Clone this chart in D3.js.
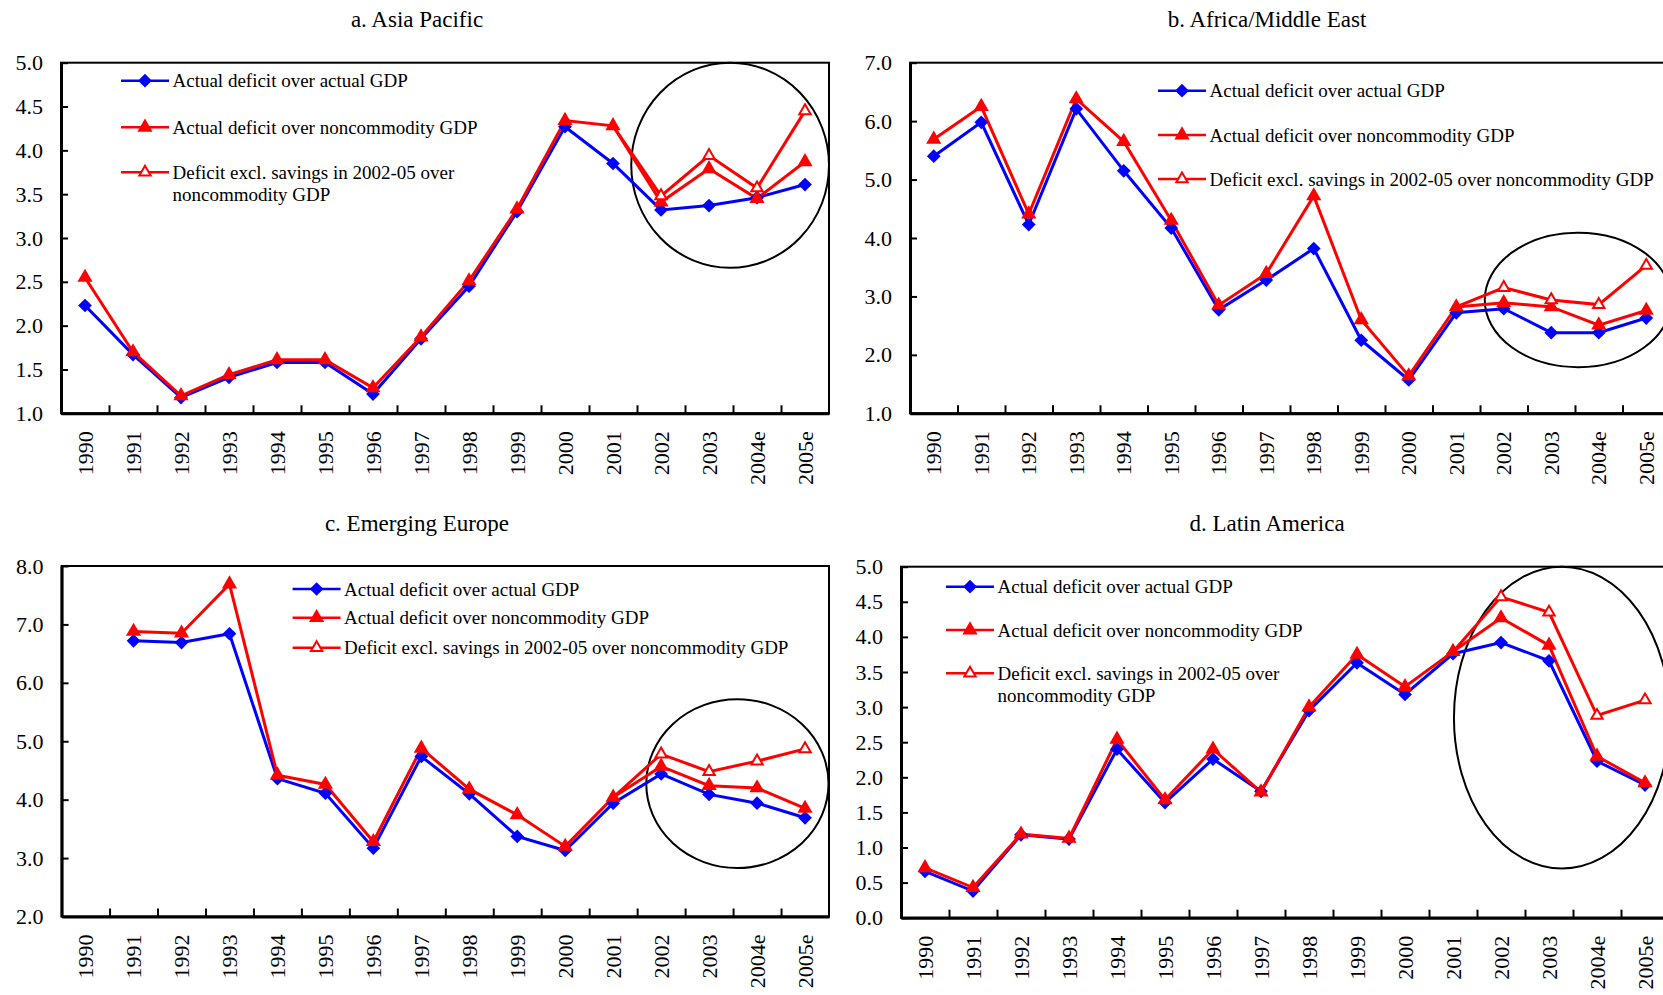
<!DOCTYPE html>
<html lang="en">
<head>
<meta charset="UTF-8" />
<title>Fiscal deficits, four regions</title>
<script src="https://cdn.jsdelivr.net/npm/d3@7"></script>
<style>
  body { margin: 0; background: #fff; }
  text { font-family: "Liberation Serif", "Times New Roman", serif; fill: #000; }
  .title { font-size: 23px; text-anchor: middle; }
  .legend text { font-size: 19px; }
  .yaxis text { font-size: 22px; }
  .xaxis text { font-size: 22px; }
  .frame { fill: none; stroke: #000; stroke-width: 2px; }
  .yaxis path, .xticks path { stroke: #000; stroke-width: 3px; }
  .yaxis line, .xticks line { stroke: #000; stroke-width: 2px; }
  .xaxis path, .xaxis line { display: none; }
  .line-blue { fill: none; stroke: #0000ff; stroke-width: 3px; }
  .line-red { fill: none; stroke: #ff0000; stroke-width: 3px; }
  .legend line { stroke-width: 2.5px; }
  .mark-blue { fill: #0000ff; }
  .mark-red { fill: #ff0000; }
  .mark-open { fill: #fff; stroke: #ff0000; stroke-width: 2px; }
  .ring { fill: none; stroke: #000; stroke-width: 2px; }
</style>
</head>
<body>
<script>

// Data

var years = ["1990", "1991", "1992", "1993", "1994", "1995", "1996", "1997",
             "1998", "1999", "2000", "2001", "2002", "2003", "2004e", "2005e"];

var legendLabels = ["Actual deficit over actual GDP",
                    "Actual deficit over noncommodity GDP",
                    "Deficit excl. savings in 2002-05 over noncommodity GDP"];
var legendWrapped = ["Deficit excl. savings in 2002-05 over", "noncommodity GDP"];

// open-triangle series only gets markers from this year on
var exclMarksFrom = "2002";

var asiaActual = [2.23, 1.67, 1.18, 1.41, 1.58, 1.58, 1.22, 1.85, 2.45, 3.30, 4.27, 3.85, 3.32, 3.37, 3.46, 3.61];
var asiaNoncom = [2.55, 1.70, 1.20, 1.44, 1.61, 1.61, 1.29, 1.87, 2.51, 3.33, 4.34, 4.28, 3.41, 3.79, 3.45, 3.87];
var asiaExcl   = [null, null, null, null, null, null, null, null, null, null, null, 4.28, 3.48, 3.94, 3.57, 4.45];
var asiaTicks  = [1.0, 1.5, 2.0, 2.5, 3.0, 3.5, 4.0, 4.5, 5.0];

var africaActual = [5.40, 5.98, 4.23, 6.21, 5.15, 4.17, 2.77, 3.28, 3.82, 2.25, 1.57, 2.72, 2.79, 2.38, 2.38, 2.63];
var africaNoncom = [5.69, 6.25, 4.41, 6.38, 5.65, 4.30, 2.85, 3.39, 4.72, 2.60, 1.64, 2.82, 2.89, 2.82, 2.51, 2.76];
var africaExcl   = [null, null, null, null, null, null, null, null, null, null, null, 2.82, 3.15, 2.94, 2.86, 3.53];
var africaTicks  = [1.0, 2.0, 3.0, 4.0, 5.0, 6.0, 7.0];

var europeActual = [null, 6.72, 6.69, 6.84, 4.36, 4.11, 3.17, 4.74, 4.10, 3.37, 3.13, 3.94, 4.44, 4.09, 3.94, 3.69];
var europeNoncom = [null, 6.88, 6.85, 7.69, 4.42, 4.26, 3.28, 4.88, 4.18, 3.74, 3.20, 4.04, 4.57, 4.24, 4.20, 3.85];
var europeExcl   = [null, null, null, null, null, null, null, null, null, null, null, 4.04, 4.78, 4.48, 4.66, 4.87];
var europeTicks  = [2.0, 3.0, 4.0, 5.0, 6.0, 7.0, 8.0];

var latinActual = [0.66, 0.38, 1.18, 1.12, 2.40, 1.64, 2.26, 1.80, 2.95, 3.63, 3.18, 3.76, 3.92, 3.66, 2.23, 1.89];
var latinNoncom = [0.71, 0.43, 1.19, 1.13, 2.54, 1.68, 2.40, 1.79, 3.00, 3.75, 3.29, 3.79, 4.27, 3.88, 2.30, 1.92];
var latinExcl   = [null, null, null, null, null, null, null, null, null, null, null, 3.79, 4.57, 4.35, 2.88, 3.10];
var latinTicks  = [0.0, 0.5, 1.0, 1.5, 2.0, 2.5, 3.0, 3.5, 4.0, 4.5, 5.0];

// Ringed region: [from slot, to slot] along the years, [low, high] in value
var asiaRing   = [[11.88, 16.0], [2.66, 5.0]];
var africaRing = [[12.1, 16.03], [1.79, 4.09]];
var europeRing = [[12.19, 15.99], [2.83, 5.72]];
var latinRing  = [[11.52, 16.02], [0.70, 5.0]];


// Layout of the four panels

var panels = [
  { title: "a. Asia Pacific", titleX: 417, titleY: 27.3,
    left: 61, top: 62.7, w: 768, h: 350.6,
    actual: asiaActual, noncom: asiaNoncom, excl: asiaExcl, ticks: asiaTicks, ring: asiaRing,
    legend: { x: 60, rows: [18, 64.6, 109.6], wrap: true } },
  { title: "b. Africa/Middle East", titleX: 1267, titleY: 27.3,
    left: 910, top: 62.7, w: 760, h: 350.6,
    actual: africaActual, noncom: africaNoncom, excl: africaExcl, ticks: africaTicks, ring: africaRing,
    legend: { x: 248, rows: [28, 72.3, 116.3], wrap: false } },
  { title: "c. Emerging Europe", titleX: 417, titleY: 530.7,
    left: 61.6, top: 566, w: 767.4, h: 350.5,
    actual: europeActual, noncom: europeNoncom, excl: europeExcl, ticks: europeTicks, ring: europeRing,
    legend: { x: 231, rows: [23, 51.7, 81.7], wrap: false } },
  { title: "d. Latin America", titleX: 1267, titleY: 530.7,
    left: 901, top: 566.7, w: 768, h: 351,
    actual: latinActual, noncom: latinNoncom, excl: latinExcl, ticks: latinTicks, ring: latinRing,
    legend: { x: 45, rows: [20, 63.3, 106.6], wrap: true } }
];

var svg = d3.select("body").append("svg")
  .attr("width", 1663)
  .attr("height", 995);

var diamond = d3.symbol().type(d3.symbolDiamond2 || d3.symbolDiamond).size(120);
var triangle = d3.symbol().type(d3.symbolTriangle).size(100);
var openTriangle = d3.symbol().type(d3.symbolTriangle).size(56);


panels.forEach(function(p) {

  // title
  svg.append("text")
     .attr("class", "title")
     .attr("x", p.titleX)
     .attr("y", p.titleY)
     .text(p.title);

  var g = svg.append("g")
     .attr("transform", "translate(" + p.left + "," + p.top + ")");

  // Scales
  var xScale = d3.scaleBand().domain(years).range([0, p.w]);
  var slot = d3.scaleLinear().domain([0, years.length]).range([0, p.w]);
  var yScale = d3.scaleLinear()
    .domain(d3.extent(p.ticks))
    .range([p.h, 0]);

  var cx = function(i) { return xScale(years[i]) + xScale.bandwidth() / 2; };

  // plot frame
  g.append("rect")
   .attr("class", "frame")
   .attr("width", p.w)
   .attr("height", p.h);

  // the ring annotation
  g.append("ellipse")
   .attr("class", "ring")
   .attr("cx", (slot(p.ring[0][0]) + slot(p.ring[0][1])) / 2)
   .attr("cy", (yScale(p.ring[1][0]) + yScale(p.ring[1][1])) / 2)
   .attr("rx", (slot(p.ring[0][1]) - slot(p.ring[0][0])) / 2)
   .attr("ry", (yScale(p.ring[1][0]) - yScale(p.ring[1][1])) / 2);

  // Axes...
  g.append("g")
   .attr("class", "xaxis")
   .attr("transform", "translate(0," + p.h + ")")
   .call(d3.axisBottom(xScale).tickSize(0))
   .selectAll("text")
     .attr("transform", "rotate(-90)")
     .attr("x", -18)
     .attr("y", 0)
     .attr("dy", "0.35em")
     .style("text-anchor", "end");

  g.append("g")
   .attr("class", "xticks")
   .attr("transform", "translate(0," + p.h + ")")
   .call(d3.axisBottom(slot)
     .tickValues(d3.range(1, years.length))
     .tickFormat("")
     .tickSizeInner(-8)
     .tickSizeOuter(0));

  g.append("g")
   .attr("class", "yaxis")
   .call(d3.axisLeft(yScale)
     .tickValues(p.ticks)
     .tickFormat(d3.format(".1f"))
     .tickSizeInner(-7)
     .tickSizeOuter(0)
     .tickPadding(18));

  // Lines...
  var line = d3.line()
    .defined(function(d) { return d != null; })
    .x(function(d, i) { return cx(i); })
    .y(function(d) { return yScale(d); });

  g.append("path").datum(p.actual).attr("class", "line-blue").attr("d", line);
  g.append("path").datum(p.excl).attr("class", "line-red").attr("d", line);
  g.append("path").datum(p.noncom).attr("class", "line-red").attr("d", line);

  // Markers...
  function points(arr, from) {
    var start = years.indexOf(from);
    return arr.map(function(v, i) { return { v: v, i: i }; })
              .filter(function(d) { return d.v != null && d.i >= start; });
  }

  g.selectAll(".mark-blue")
   .data(points(p.actual, years[0]))
   .enter().append("path")
   .attr("class", "mark-blue")
   .attr("d", diamond)
   .attr("transform", function(d) { return "translate(" + cx(d.i) + "," + yScale(d.v) + ")"; });

  g.selectAll(".mark-red")
   .data(points(p.noncom, years[0]))
   .enter().append("path")
   .attr("class", "mark-red")
   .attr("d", triangle)
   .attr("transform", function(d) { return "translate(" + cx(d.i) + "," + yScale(d.v) + ")"; });

  g.selectAll(".mark-open")
   .data(points(p.excl, exclMarksFrom))
   .enter().append("path")
   .attr("class", "mark-open")
   .attr("d", openTriangle)
   .attr("transform", function(d) { return "translate(" + cx(d.i) + "," + yScale(d.v) + ")"; });

  // Legend...
  var lg = g.append("g")
    .attr("class", "legend")
    .attr("transform", "translate(" + p.legend.x + ",0)");

  var keys = [
    { cls: "line-blue", mark: "mark-blue", sym: diamond },
    { cls: "line-red", mark: "mark-red", sym: triangle },
    { cls: "line-red", mark: "mark-open", sym: openTriangle }
  ];

  keys.forEach(function(k, j) {
    var yy = p.legend.rows[j];
    lg.append("line")
      .attr("class", k.cls)
      .attr("x1", 0).attr("x2", 48)
      .attr("y1", yy).attr("y2", yy);
    lg.append("path")
      .attr("class", k.mark)
      .attr("d", k.sym)
      .attr("transform", "translate(24," + yy + ")");

    var lines = (j == 2 && p.legend.wrap) ? legendWrapped : [legendLabels[j]];
    lines.forEach(function(s, n) {
      lg.append("text")
        .attr("x", 51.5)
        .attr("y", yy + n * 22.5)
        .attr("dy", "0.35em")
        .text(s);
    });
  });

});

</script>
</body>
</html>
